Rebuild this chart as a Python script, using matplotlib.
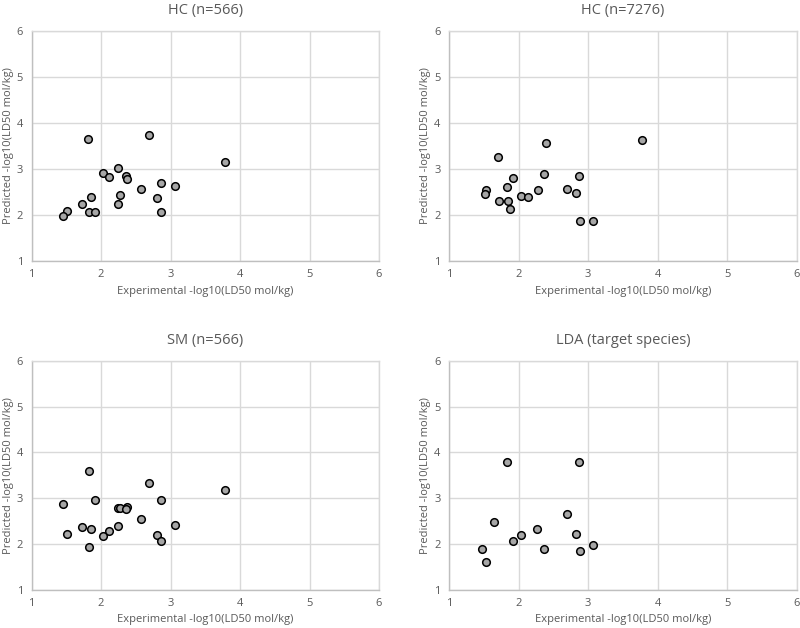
import numpy as np
import matplotlib
matplotlib.use("Agg")
from matplotlib import pyplot as plt

plt.rcParams['font.family'] = ['Open Sans', 'DejaVu Sans']

# HC (n=566)
hc566_x = [1.81, 2.69, 3.78, 2.03, 2.11, 2.25, 2.36, 2.38, 2.86, 3.06, 2.58,
           1.86, 2.27, 2.81, 1.72, 2.25, 1.83, 1.91, 2.87, 1.51, 1.45]
hc566_y = [3.65, 3.73, 3.15, 2.92, 2.82, 3.02, 2.85, 2.79, 2.70, 2.64, 2.56,
           2.40, 2.43, 2.38, 2.24, 2.24, 2.07, 2.07, 2.06, 2.08, 1.98]

# HC (n=7276)
hc7276_x = [1.71, 2.39, 3.78, 2.37, 2.87, 1.92, 1.53, 1.52, 1.83, 2.28,
            2.70, 2.82, 2.03, 2.13, 1.72, 1.85, 1.87, 2.88, 3.07]
hc7276_y = [3.26, 3.56, 3.63, 2.90, 2.85, 2.81, 2.54, 2.46, 2.61, 2.54,
            2.56, 2.48, 2.41, 2.40, 2.30, 2.30, 2.14, 1.87, 1.88]

# SM (n=566)
sm_x = [1.82, 2.69, 3.78, 1.45, 1.91, 2.86, 2.25, 2.27, 2.38, 2.36, 2.58,
        3.06, 1.72, 1.86, 2.25, 2.11, 2.03, 1.51, 2.81, 2.87, 1.83]
sm_y = [3.59, 3.32, 3.17, 2.87, 2.96, 2.96, 2.78, 2.78, 2.81, 2.77, 2.55,
        2.42, 2.36, 2.33, 2.38, 2.29, 2.18, 2.21, 2.20, 2.06, 1.92]

# LDA (target species)
lda_x = [1.83, 2.87, 1.65, 1.47, 1.53, 1.92, 2.04, 2.26, 2.37, 2.70, 2.82, 2.88, 3.07]
lda_y = [3.80, 3.79, 2.48, 1.89, 1.61, 2.06, 2.20, 2.33, 1.88, 2.66, 2.22, 1.85, 1.97]

titles = ["HC (n=566)", "HC (n=7276)", "SM (n=566)", "LDA (target species)"]
xs = [hc566_x, hc7276_x, sm_x, lda_x]
ys = [hc566_y, hc7276_y, sm_y, lda_y]

ticks = [1, 2, 3, 4, 5, 6]
txt = '#595959'
grid = '#d9d9d9'

fig = plt.figure(figsize=(8, 6.28), dpi=100)
rects = [
    [0.0394, 0.5844, 0.4344, 0.3662],
    [0.5612, 0.5844, 0.4350, 0.3662],
    [0.0394, 0.0613, 0.4344, 0.3639],
    [0.5612, 0.0613, 0.4350, 0.3639],
]

for rect, title, x, y in zip(rects, titles, xs, ys):
    ax = fig.add_axes(rect)
    ax.scatter(x, y, s=30, facecolor='#a6a6a6', edgecolor='black',
               linewidth=1.1, zorder=3)
    ax.set_xlim(1, 6)
    ax.set_ylim(1, 6)
    ax.set_xticks(ticks)
    ax.set_yticks(ticks)
    ax.grid(True, color=grid, linewidth=1)
    for s in ax.spines.values():
        s.set_color(grid)
        s.set_linewidth(1)
    ax.spines['left'].set_color('#bfbfbf')
    ax.spines['bottom'].set_color('#bfbfbf')
    ax.tick_params(length=0, labelsize=8, colors=txt, pad=6)
    ax.set_title(title, fontsize=10.5, color=txt, pad=12)
    ax.set_xlabel("Experimental -log10(LD50 mol/kg)", fontsize=8, color=txt, labelpad=4)
    ax.set_ylabel("Predicted -log10(LD50 mol/kg)", fontsize=8, color=txt, labelpad=2)
    ax.set_axisbelow(True)

fig.savefig("out.png", dpi=100)
